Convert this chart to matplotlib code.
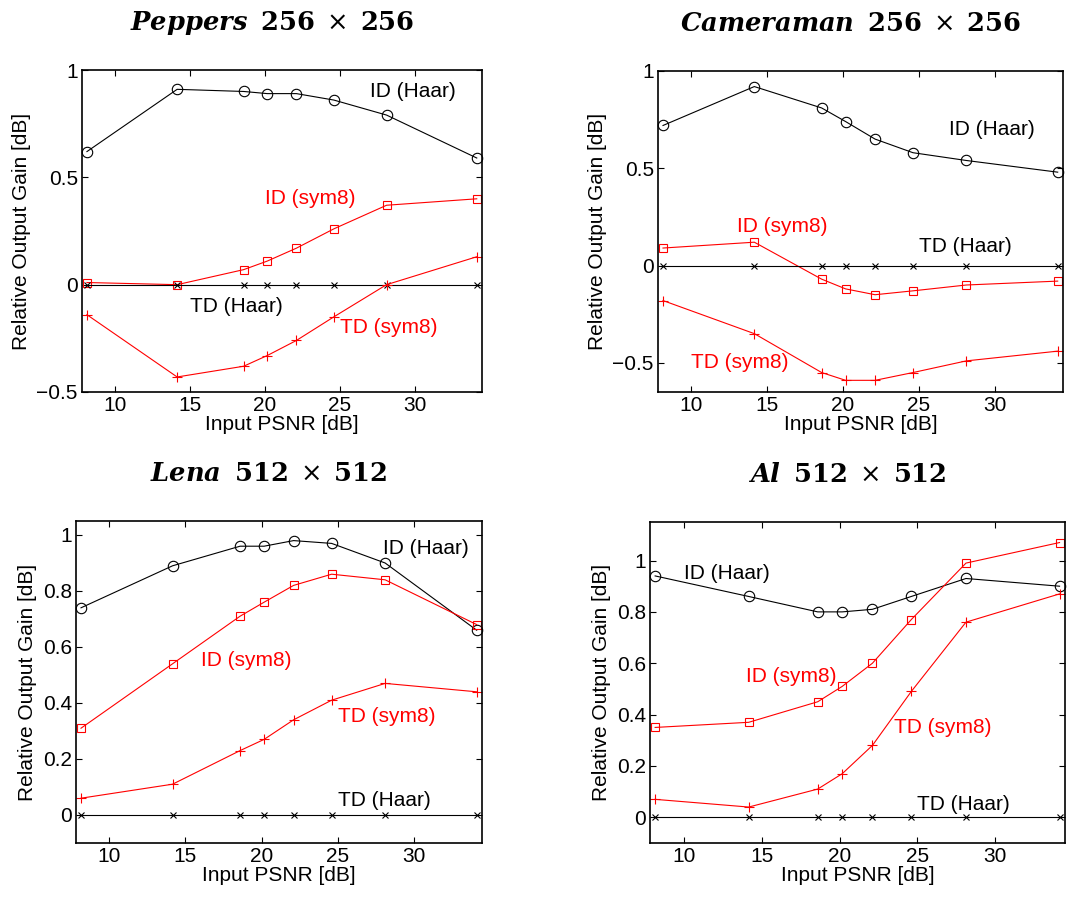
import matplotlib
matplotlib.use("Agg")
import matplotlib.pyplot as plt
from matplotlib.ticker import FuncFormatter

plt.rcParams['font.family'] = ['Liberation Sans', 'DejaVu Sans']
plt.rcParams['mathtext.fontset'] = 'custom'
plt.rcParams['mathtext.bfit'] = 'DejaVu Serif:italic:bold'
plt.rcParams['mathtext.bf'] = 'DejaVu Serif:bold'
plt.rcParams['mathtext.rm'] = 'DejaVu Serif'

# input PSNR for sigma = 100, 50, 30, 25, 20, 15, 10, 5
psnr = [8.13, 14.15, 18.59, 20.17, 22.11, 24.61, 28.13, 34.15]

titles = [r'$\mathbfit{Peppers}\;\;\mathbf{256}\;\times\;\mathbf{256}$',
          r'$\mathbfit{Cameraman}\;\;\mathbf{256}\;\times\;\mathbf{256}$',
          r'$\mathbfit{Lena}\;\;\mathbf{512}\;\times\;\mathbf{512}$',
          r'$\mathbfit{Al}\;\;\mathbf{512}\;\times\;\mathbf{512}$']

peppers_id_haar = [0.62, 0.91, 0.90, 0.89, 0.89, 0.86, 0.79, 0.59]
peppers_id_sym8 = [0.01, 0.00, 0.07, 0.11, 0.17, 0.26, 0.37, 0.40]
peppers_td_haar = [0, 0, 0, 0, 0, 0, 0, 0]
peppers_td_sym8 = [-0.14, -0.43, -0.38, -0.33, -0.26, -0.15, 0.00, 0.13]

camera_id_haar = [0.72, 0.92, 0.81, 0.74, 0.65, 0.58, 0.54, 0.48]
camera_id_sym8 = [0.09, 0.12, -0.07, -0.12, -0.15, -0.13, -0.10, -0.08]
camera_td_haar = [0, 0, 0, 0, 0, 0, 0, 0]
camera_td_sym8 = [-0.18, -0.35, -0.55, -0.59, -0.59, -0.55, -0.49, -0.44]

lena_id_haar = [0.74, 0.89, 0.96, 0.96, 0.98, 0.97, 0.90, 0.66]
lena_id_sym8 = [0.31, 0.54, 0.71, 0.76, 0.82, 0.86, 0.84, 0.68]
lena_td_haar = [0, 0, 0, 0, 0, 0, 0, 0]
lena_td_sym8 = [0.06, 0.11, 0.23, 0.27, 0.34, 0.41, 0.47, 0.44]

al_id_haar = [0.94, 0.86, 0.80, 0.80, 0.81, 0.86, 0.93, 0.90]
al_id_sym8 = [0.35, 0.37, 0.45, 0.51, 0.60, 0.77, 0.99, 1.07]
al_td_haar = [0, 0, 0, 0, 0, 0, 0, 0]
al_td_sym8 = [0.07, 0.04, 0.11, 0.17, 0.28, 0.49, 0.76, 0.87]

series = [(peppers_id_haar, peppers_id_sym8, peppers_td_haar, peppers_td_sym8),
          (camera_id_haar, camera_id_sym8, camera_td_haar, camera_td_sym8),
          (lena_id_haar, lena_id_sym8, lena_td_haar, lena_td_sym8),
          (al_id_haar, al_id_sym8, al_td_haar, al_td_sym8)]

ylims = [(-0.5, 1.0), (-0.65, 1.0), (-0.1, 1.05), (-0.1, 1.15)]
yticks = [[-0.5, 0, 0.5, 1], [-0.5, 0, 0.5, 1],
          [0, 0.2, 0.4, 0.6, 0.8, 1], [0, 0.2, 0.4, 0.6, 0.8, 1]]

# label positions (x, y) for ID Haar, ID sym8, TD Haar, TD sym8
labels = ['ID (Haar)', 'ID (sym8)', 'TD (Haar)', 'TD (sym8)']
label_pos = [[(27, 0.9), (20, 0.4), (15, -0.1), (25, -0.2)],
             [(27, 0.7), (13, 0.2), (25, 0.1), (10, -0.5)],
             [(28, 0.95), (16, 0.55), (25, 0.05), (25, 0.35)],
             [(10, 0.95), (14, 0.55), (25, 0.05), (23.5, 0.35)]]

# axes boxes in pixels: left, right, top, bottom
boxes = [(82, 482, 70, 392), (658, 1063, 71, 392),
         (76, 482, 521, 843), (650, 1065, 522, 843)]

W, H = 1068, 898
fig = plt.figure(figsize=(W / 100, H / 100), dpi=100)

styles = [dict(color='black', marker='o', ms=7.5, mfc='none', mew=0.8),
          dict(color='red', marker='s', ms=5.5, mfc='none', mew=0.8),
          dict(color='black', marker='x', ms=4, mew=0.8),
          dict(color='red', marker='+', ms=7, mew=0.8)]
label_colors = ['black', 'red', 'black', 'red']

fmt = FuncFormatter(lambda v, p: f"{v:g}".replace('-', '\u2212'))

for i in range(4):
    l, r, t, b = boxes[i]
    ax = fig.add_axes([l / W, 1 - b / H, (r - l) / W, (b - t) / H])
    for s, st in zip(series[i], styles):
        ax.plot(psnr, s, lw=0.8, clip_on=False, **st)
    for lab, (tx, ty), c in zip(labels, label_pos[i], label_colors):
        ax.text(tx, ty, lab, color=c, fontsize=15, ha='left', va='center')
    ax.set_xlim(7.8, 34.5)
    ax.set_ylim(*ylims[i])
    ax.set_xticks([10, 15, 20, 25, 30])
    ax.set_yticks(yticks[i])
    ax.yaxis.set_major_formatter(fmt)
    ax.tick_params(direction='in', length=4, width=0.8, top=True, right=True,
                   labelsize=15, pad=3)
    for sp in ax.spines.values():
        sp.set_linewidth(1.2)
    ax.set_xlabel('Input PSNR [dB]', fontsize=15, labelpad=0)
    ax.set_ylabel('Relative Output Gain [dB]', fontsize=15, labelpad=4)
    ax.set_title(titles[i], fontsize=18.5, x=0.475, pad=29)

fig.savefig('out.png', dpi=100)
